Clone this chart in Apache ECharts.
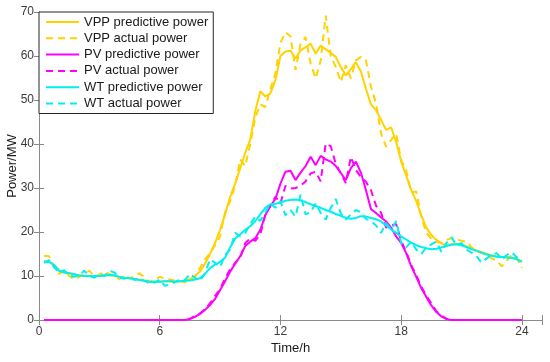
<!DOCTYPE html>
<html>
<head>
<meta charset="utf-8">
<script src="https://cdn.jsdelivr.net/npm/echarts@6/dist/echarts.min.js"></script>
<style>html,body{margin:0;padding:0;background:#fff}#c{width:550px;height:362px}</style>
</head>
<body>
<div id="c"></div>
<script>
// time grid: 15-minute samples, 0.25 h ... 24 h
const times = Array.from({length: 96}, (_, i) => (i + 1) * 0.25);
const xTicks = [0, 6, 12, 18, 24];
const yTicks = [0, 10, 20, 30, 40, 50, 60, 70];
const seriesNames = ['VPP predictive power', 'VPP actual power', 'PV predictive power', 'PV actual power', 'WT predictive power', 'WT actual power'];

const vppPred = [
  13.3,13.2,12.5,11.2,10.8,10.6,10.4,10.1,
  10.0,10.0,10.0,10.0,10.1,10.2,10.1,9.8,
  9.6,9.5,9.3,9.1,8.9,8.7,8.7,8.7,
  8.8,8.8,8.7,8.8,8.9,9.3,10.0,11.0,
  12.8,15.0,17.5,20.5,24.0,28.0,31.0,34.5,
  38.0,41.0,47.5,52.0,50.8,51.5,54.5,60.0,
  61.0,61.2,59.4,61.3,62.0,62.8,60.5,62.4,
  61.5,60.7,59.8,57.5,55.6,57.0,58.6,56.5,
  52.5,49.0,47.7,45.5,43.2,43.8,40.5,36.0,
  32.8,29.5,27.0,23.8,21.0,19.3,18.2,17.4,
  17.0,17.2,17.3,17.1,16.7,16.2,15.8,15.4,
  15.0,14.7,14.5,14.4,14.3,14.2,13.9,13.3
];
const vppAct = [
  14.6,14.5,12.0,10.5,11.2,10.0,9.2,9.8,
  10.6,11.2,9.8,10.3,11.0,10.5,9.9,9.3,
  10.2,9.4,10.0,10.6,9.6,8.6,9.2,9.8,
  9.4,9.2,8.9,8.8,8.6,9.3,9.8,11.8,
  13.8,15.2,17.0,19.0,24.5,27.0,30.5,36.5,
  35.0,40.0,46.0,49.0,48.4,52.5,56.0,63.0,
  65.4,64.5,56.8,62.8,64.3,58.3,54.9,59.0,
  69.2,60.0,57.5,54.1,57.9,54.9,59.0,59.8,
  59.0,53.0,49.2,42.4,39.4,40.9,42.4,36.3,
  34.0,29.0,29.2,23.5,19.8,18.5,17.8,17.5,
  18.2,18.6,18.3,18.0,17.8,16.5,15.6,15.2,
  14.8,14.0,13.5,12.2,13.5,14.8,14.0,11.8
];
const pvPred = [
  0,0,0,0,0,0,0,0,
  0,0,0,0,0,0,0,0,
  0,0,0,0,0,0,0,0,
  0,0,0,0,0,0.2,0.7,1.4,
  2.3,3.4,4.8,6.8,8.8,11.0,12.8,14.5,
  16.8,17.8,18.6,20.5,23.8,25.9,27.5,31.0,
  33.7,33.9,31.8,33.5,35.0,37.1,35.2,37.3,
  36.5,36.0,35.0,33.4,31.8,34.5,36.0,33.5,
  29.5,25.2,24.3,23.3,22.4,21.0,19.0,17.5,
  15.2,12.2,9.8,7.2,5.2,3.3,1.8,0.8,
  0.2,0,0,0,0,0,0,0,
  0,0,0,0,0,0,0,0
];
const pvAct = [
  0,0,0,0,0,0,0,0,
  0,0,0,0,0,0,0,0,
  0,0,0,0,0,0,0,0,
  0,0,0,0,0,0.3,0.9,1.5,
  2.5,3.8,5.5,7.0,9.5,11.5,13.0,14.2,
  17.5,18.5,18.0,19.5,24.0,26.0,28.0,26.5,
  30.5,29.9,30.0,30.5,31.5,33.3,33.7,31.5,
  40.1,39.5,35.5,33.3,31.1,37.1,34.1,32.5,
  31.4,29.5,26.0,24.4,21.0,21.5,21.8,18.0,
  15.5,12.5,10.2,7.6,5.5,3.8,2.0,1.0,
  0.3,0,0,0,0,0,0,0,
  0,0,0,0,0,0,0,0
];
const wtPred = [
  13.3,13.2,12.5,11.2,10.8,10.6,10.4,10.1,
  10.0,10.0,10.0,10.0,10.1,10.2,10.1,9.8,
  9.6,9.5,9.3,9.1,8.9,8.7,8.7,8.7,
  8.8,8.8,8.7,8.8,8.9,9.0,9.2,9.5,
  10.5,11.8,12.6,13.2,14.2,16.5,18.5,19.5,
  20.5,21.3,22.5,24.0,25.5,26.3,26.4,26.7,
  27.1,27.3,27.4,27.2,26.8,26.3,25.9,25.5,
  25.0,24.6,24.1,23.7,23.2,23.0,23.2,23.6,
  23.5,23.2,22.9,22.4,21.5,20.6,19.8,19.0,
  18.3,17.6,17.0,16.6,16.3,16.1,16.2,16.5,
  16.8,17.1,17.2,17.0,16.6,16.1,15.7,15.3,
  14.9,14.6,14.4,14.3,14.2,14.1,13.8,13.2
];
const wtAct = [
  13.0,13.6,12.0,10.8,11.3,10.2,9.8,10.2,
  11.2,10.0,9.6,10.4,10.0,11.2,10.8,9.6,
  9.4,9.8,9.1,9.5,8.9,8.3,8.5,9.2,
  7.8,8.0,8.6,9.2,9.0,10.5,9.6,8.9,
  10.6,13.8,13.0,12.0,14.8,16.0,19.8,19.0,
  19.8,21.8,23.5,22.5,24.5,26.5,25.5,27.0,
  23.8,25.0,23.5,28.5,24.0,24.5,26.5,24.3,
  22.8,25.5,27.5,24.2,22.8,24.0,25.0,24.5,
  23.0,22.5,21.5,19.8,22.0,20.5,22.5,17.5,
  16.5,17.8,16.0,15.0,16.5,17.2,17.8,15.5,
  17.5,18.8,17.0,17.5,16.0,15.3,14.5,13.0,
  14.0,14.8,15.2,13.8,14.8,15.4,14.2,15.0
];

const colors = {vpp: '#FFD200', pv: '#FF00FF', wt: '#00F0F0'};
const FONT = 'Liberation Sans, Arial, sans-serif';
const AX = '#8a8a8a';
const LBL = '#3a3a3a';

function pairs(vals) { return times.map((t, i) => [t, vals[i]]); }
function mkSeries(name, vals, color, dashed) {
  return {
    name: name, type: 'line', data: pairs(vals), symbol: 'none', showSymbol: false,
    xAxisIndex: 0, yAxisIndex: 0, animation: false, silent: true,
    lineStyle: {color: color, width: 2, type: dashed ? [7, 5] : 'solid'},
    itemStyle: {color: color}
  };
}

const chart = echarts.init(document.getElementById('c'), null, {renderer: 'canvas'});
const xMax = 25, yMax = 70;
const xInt = xTicks[1] - xTicks[0], yInt = yTicks[1] - yTicks[0];
chart.setOption({
  animation: false,
  textStyle: {fontFamily: FONT},
  grid: {left: 39, right: 8, top: 12, bottom: 42, containLabel: false, outerBoundsMode: 'none'},
  legend: {
    orient: 'vertical', left: 39, top: 12,
    data: seriesNames,
    itemWidth: 33, itemHeight: 14, itemGap: 2.3,
    padding: [3, 5, 3, 6],
    backgroundColor: '#fff', borderColor: '#262626', borderWidth: 1,
    itemStyle: {opacity: 0, color: 'rgba(0,0,0,0)', borderColor: 'rgba(0,0,0,0)', borderWidth: 0},
    textStyle: {fontSize: 13, color: '#1a1a1a', fontFamily: FONT, lineHeight: 14},
    selectedMode: false
  },
  xAxis: [
    {
      type: 'value', position: 'bottom', min: xTicks[0], max: xMax, interval: xInt,
      name: 'Time/h', nameLocation: 'middle', nameGap: 22, nameMoveOverlap: false,
      nameTextStyle: {fontSize: 13, color: '#1a1a1a', fontFamily: FONT},
      axisLine: {show: true, lineStyle: {color: AX, width: 1}},
      axisTick: {show: true, inside: true, length: 5, lineStyle: {color: AX}},
      axisLabel: {fontSize: 12, color: LBL, margin: 6, fontFamily: FONT,
        formatter: v => (xTicks.indexOf(v) >= 0 ? String(v) : '')},
      splitLine: {show: false}
    },
    {
      type: 'value', position: 'top', min: xTicks[0], max: xMax, interval: xInt,
      axisLine: {show: true, lineStyle: {color: AX, width: 1}},
      axisTick: {show: true, inside: true, length: 5, lineStyle: {color: AX}},
      axisLabel: {show: false}, splitLine: {show: false}
    }
  ],
  yAxis: [
    {
      type: 'value', position: 'left', min: yTicks[0], max: yMax, interval: yInt,
      name: 'Power/MW', nameLocation: 'middle', nameGap: 20, nameRotate: 90, nameMoveOverlap: false,
      nameTextStyle: {fontSize: 13, color: '#1a1a1a', fontFamily: FONT},
      axisLine: {show: true, lineStyle: {color: AX, width: 1}},
      axisTick: {show: true, inside: true, length: 5, lineStyle: {color: AX}},
      axisLabel: {fontSize: 12, color: LBL, margin: 5, fontFamily: FONT, align: 'right',
        formatter: v => (yTicks.indexOf(v) >= 0 ? String(v) : '')},
      splitLine: {show: false}
    },
    {
      type: 'value', position: 'right', min: yTicks[0], max: yMax, interval: yInt,
      axisLine: {show: true, lineStyle: {color: AX, width: 1}},
      axisTick: {show: true, inside: true, length: 5, lineStyle: {color: AX}},
      axisLabel: {show: false}, splitLine: {show: false}
    }
  ],
  series: [
    mkSeries(seriesNames[0], vppPred, colors.vpp, false),
    mkSeries(seriesNames[1], vppAct, colors.vpp, true),
    mkSeries(seriesNames[2], pvPred, colors.pv, false),
    mkSeries(seriesNames[3], pvAct, colors.pv, true),
    mkSeries(seriesNames[4], wtPred, colors.wt, false),
    mkSeries(seriesNames[5], wtAct, colors.wt, true)
  ]
});
</script>
</body>
</html>
